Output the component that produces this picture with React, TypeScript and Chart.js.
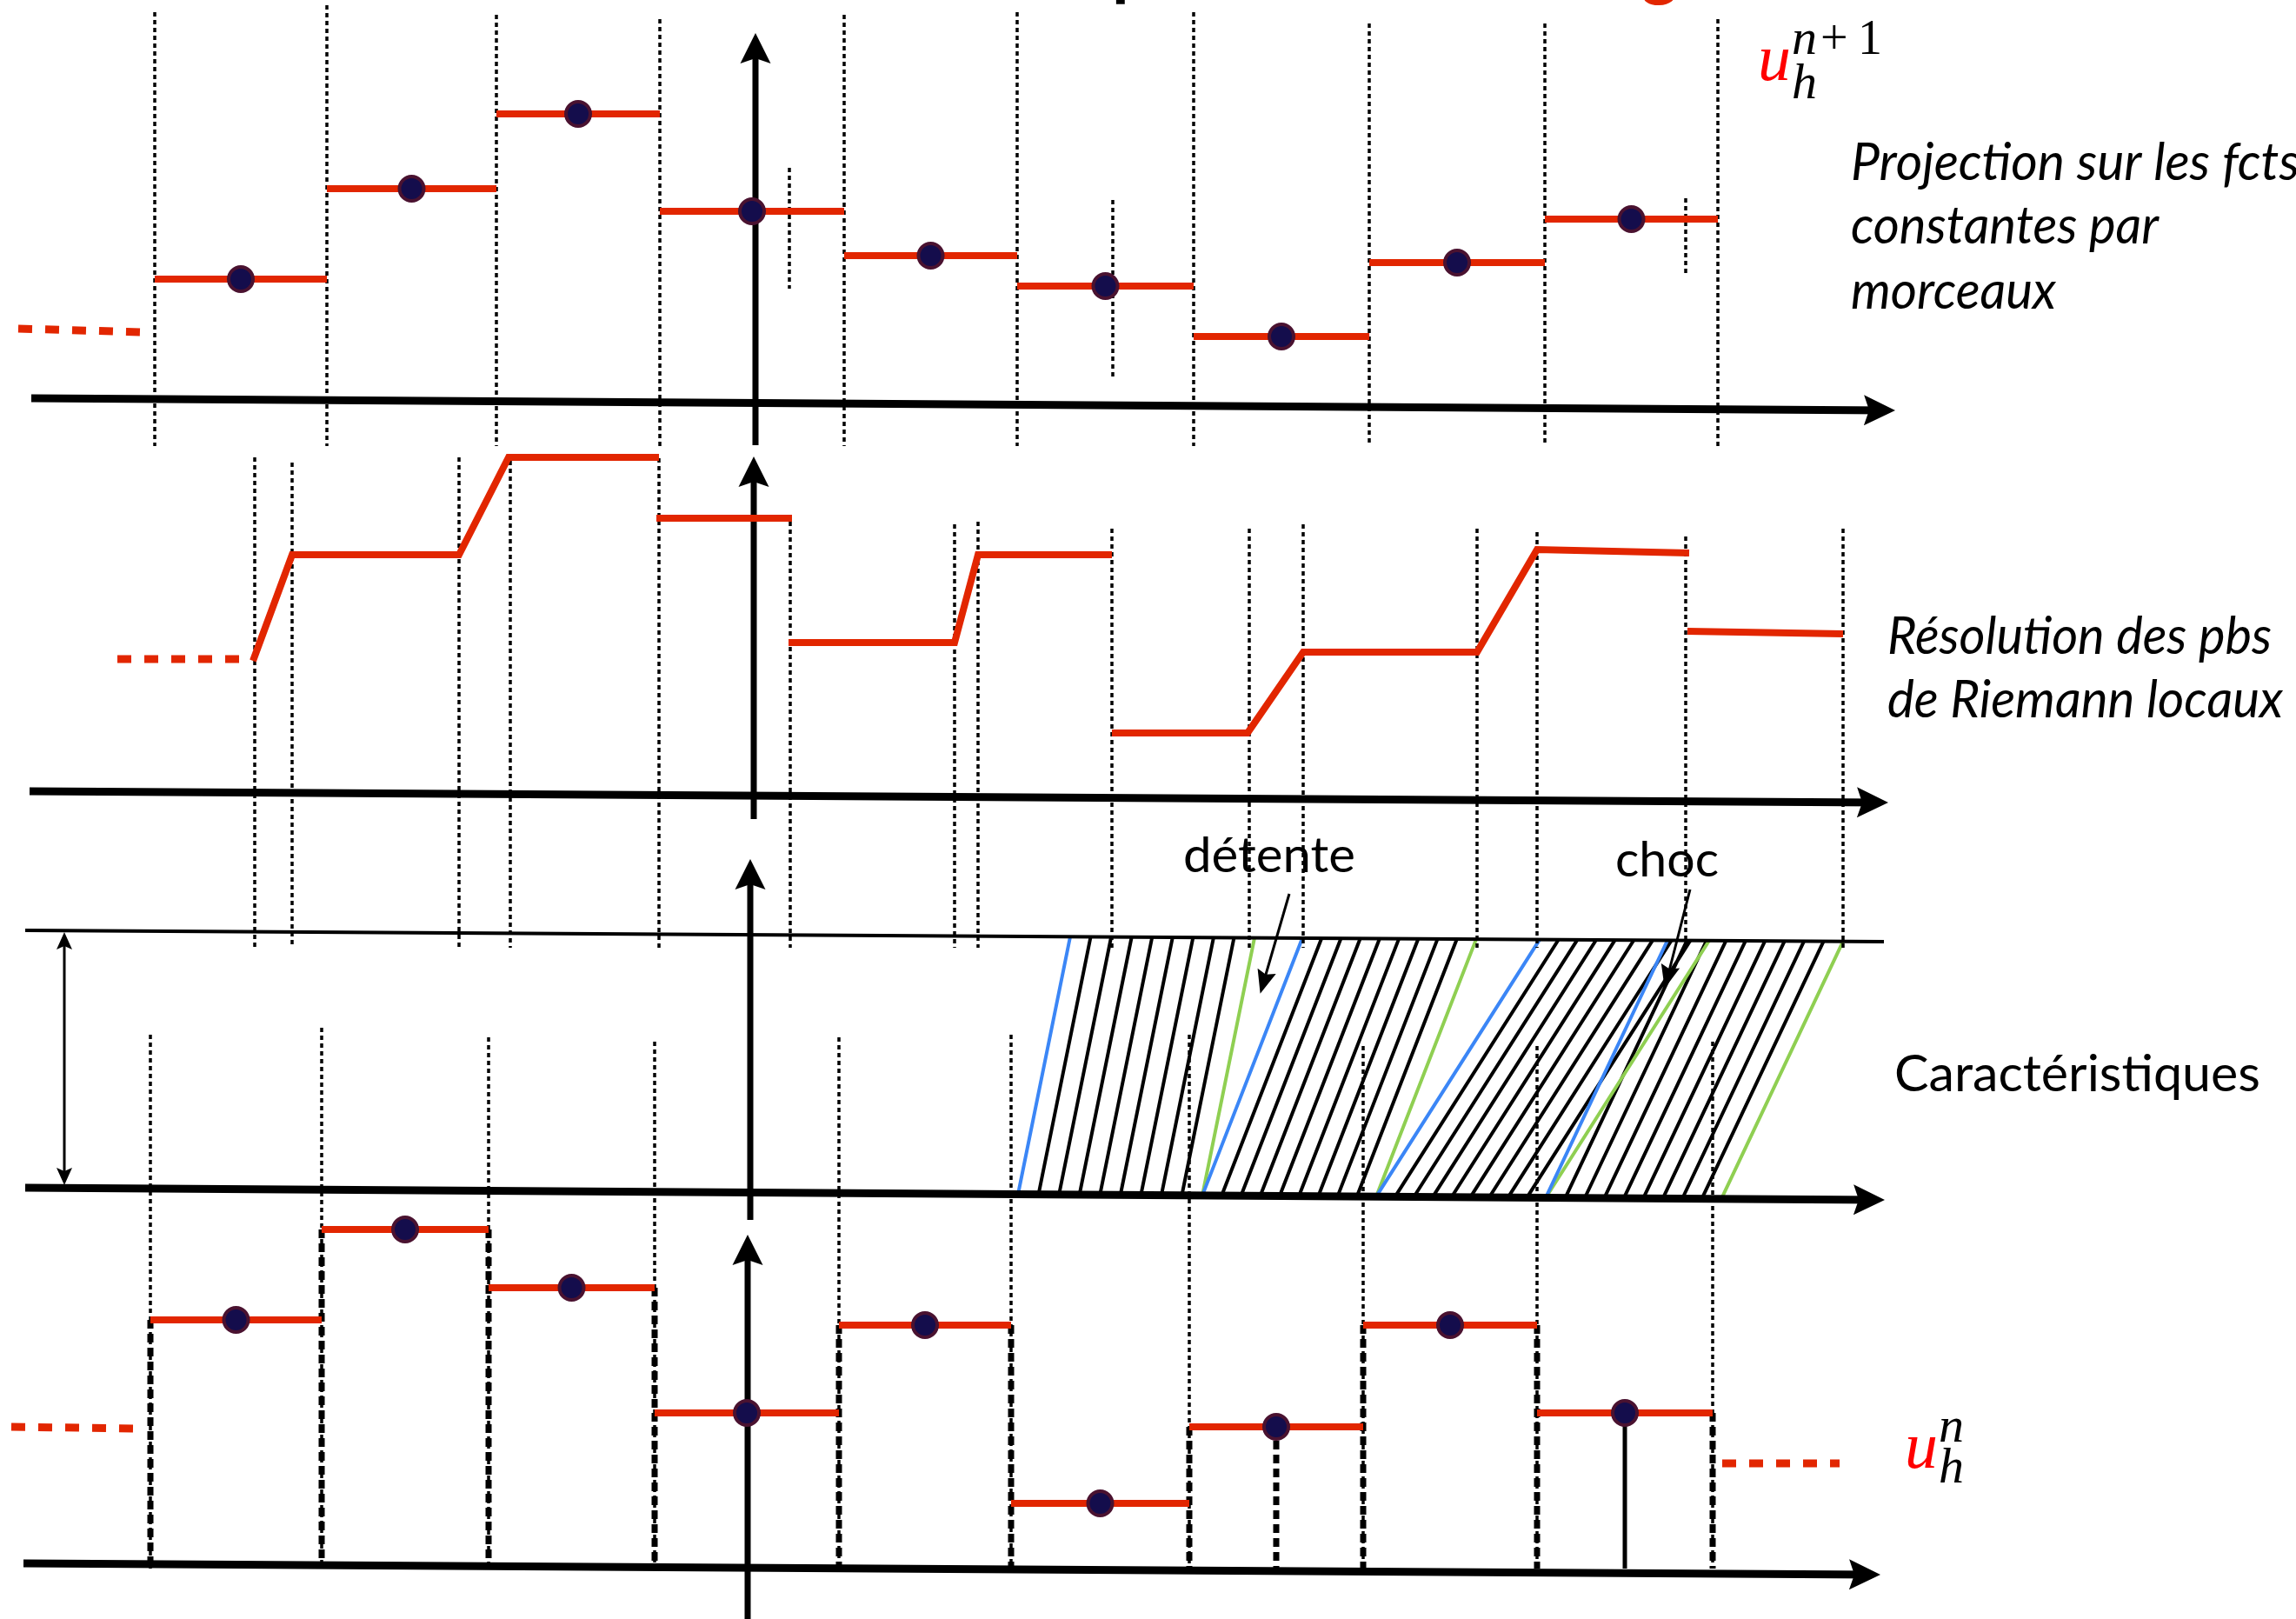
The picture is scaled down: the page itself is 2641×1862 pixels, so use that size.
import React, { useEffect, useRef } from "react";
import { Chart, registerables } from "chart.js";

Chart.register(...registerables);

// ---------------- DATA ----------------
// x: position in cell widths measured from the vertical axis
// u: height of the state above the horizontal axis of its own panel

// Panel 1 : u_h^{n+1}, projection on piecewise constants
const cellEdgesNp1 = [-3.44, -2.45, -1.475, -0.535, 0.525, 1.52, 2.535, 3.545, 4.555, 5.55];
const cellValuesNp1 = [1.44, 2.48, 3.34, 2.22, 1.71, 1.36, 0.78, 1.63, 2.13];
const ghostNp1X = [-4.225, -3.51];
const ghostNp1U = [0.87, 0.83];
const markNp1X = [0.21, 2.07, 5.365];
const markNp1Top = [2.72, 2.35, 2.37];
const markNp1Bottom = [1.33, 0.31, 1.47];

// Panel 2 : solution of the local Riemann problems (null = break)
const riemannX = [-2.875, -2.65, -1.69, -1.405, -0.54, null, -0.555, 0.225, null, 0.205, 1.16, 1.295, 2.065, null, 2.065, 2.845, 3.165, 4.165, 4.51, 5.385, null, 5.375, 6.27];
const riemannU = [1.56, 2.78, 2.78, 3.9, 3.9, null, 3.2, 3.2, null, 1.77, 1.77, 2.78, 2.78, null, 0.73, 0.73, 1.66, 1.66, 2.84, 2.8, null, 1.9, 1.87];
const ghostRiemannX = [-3.655, -2.92];
const ghostRiemannU = [1.58, 1.58];
const waveX = [-2.865, -2.65, -1.69, -1.395, -0.54, 0.215, 1.16, 1.295, 2.065, 2.855, 3.165, 4.165, 4.51, 5.365, 6.27];
const waveTop = [3.9, 3.84, 3.9, 3.86, 3.89, 3.16, 3.13, 3.16, 3.08, 3.08, 3.13, 3.08, 3.04, 2.99, 3.08];

// Panel 3 : characteristics (cells at the foot, and shift of the lines over the time step)
const charEdges = [1.525, 2.585, 3.585, 4.56, 5.57];
const charShift = [0.3, 0.575, 0.94, 0.7];
const charLinesPerCell = 9;

// Panel 4 : u_h^n
const cellEdgesN = [-3.465, -2.48, -1.52, -0.565, 0.495, 1.485, 2.51, 3.51, 4.51, 5.52];
const cellValuesN = [2.86, 3.9, 3.23, 1.79, 2.8, 0.75, 1.63, 2.8, 1.79];
const ghostNLeftX = [-4.265, -3.55];
const ghostNLeftU = [1.63, 1.61];
const ghostNRightX = [5.575, 6.25];
const ghostNRightU = [1.21, 1.21];
const stemDashedCell = 6;
const stemSolidCell = 8;

// Texts
const labelProjection = ["Projection sur les fcts", "constantes par", "morceaux"];
const labelRiemann = ["Résolution des pbs", "de Riemann locaux"];
const labelCharacteristics = "Caractéristiques";
const labelRarefaction = "détente";
const labelShock = "choc";

// ---------------- LAYOUT ----------------
const W = 2641;
const H = 1862;
const X_MIN = -4.33;
const X_MAX = 8.875;
const Y_MIN = 0;
const Y_MAX = 18.62;
const B1 = 13.97; // panel bases
const B2 = 9.46;
const B3 = 4.89;
const B4 = 0.58;
const BASES = [B1, B2, B3, B4];
const axisLeftX = [-4.15, -4.16, -4.185, -4.195];
const axisRightX = [6.52, 6.48, 6.46, 6.435];
const axisLeftH = [0.07, 0.06, 0.07, 0.06];
const axisRightH = [-0.07, -0.07, -0.07, -0.07];
const vAxisX = [0.015, 0.005, -0.015, -0.03];
const vAxisBottom = [-0.47, -0.26, -0.3, -0.58];
const vAxisTop = [4.19, 3.83, 3.77, 3.76];
const topLine = { x0: -4.185, h0: 3.03, x1: 6.505, h1: 2.9 };
const np1Top = [4.51, 4.59, 4.48, 4.43, 4.48, 4.51, 4.51, 4.38, 4.38, 4.43];
const np1Bottom = -0.48;
const waveBottom = -1.74;
const nTop = [6.14, 6.22, 6.11, 6.06, 6.11, 6.14, 6.14, 6.01, 6.01, 6.06];

const RED = "#e22600";
const NAVY = "#140d4c";
const MAROON = "#4a1230";
const BLUE = "#3b86f6";
const GREEN = "#8fcf52";
const BLACK = "#000000";

type Pt = { x: number; y: number | null };
type Seg = number[][];

const pts = (segs: Seg[]): Pt[] => {
  const out: Pt[] = [];
  segs.forEach((s, i) => {
    if (i > 0) out.push({ x: s[0][0], y: null });
    s.forEach((p) => out.push({ x: p[0], y: p[1] }));
  });
  return out;
};

const lineDs = (segs: Seg[], color: string, width: number, dash: number[], order: number) => ({
  data: pts(segs),
  borderColor: color,
  backgroundColor: color,
  borderWidth: width,
  borderDash: dash,
  borderCapStyle: "butt",
  borderJoinStyle: "miter",
  pointRadius: 0,
  pointHoverRadius: 0,
  pointHitRadius: 0,
  fill: false,
  tension: 0,
  spanGaps: false,
  order,
});

const axisH = (x: number) => axisLeftH[2] + (axisRightH[2] - axisLeftH[2]) * (x - axisLeftX[2]) / (topLine.x1 - axisLeftX[2]);
const topH = (x: number) => topLine.h0 + (topLine.h1 - topLine.h0) * (x - topLine.x0) / (topLine.x1 - topLine.x0);

function buildDatasets() {
  const ds: any[] = [];
  const centersNp1 = cellValuesNp1.map((v, i) => ({ x: (cellEdgesNp1[i] + cellEdgesNp1[i + 1]) / 2, y: B1 + v }));
  const centersN = cellValuesN.map((v, i) => ({ x: (cellEdgesN[i] + cellEdgesN[i + 1]) / 2, y: B4 + v }));

  // dots
  ds.push({
    data: [...centersNp1, ...centersN],
    showLine: false,
    pointRadius: 14,
    pointHoverRadius: 14,
    pointBorderWidth: 4,
    pointBackgroundColor: NAVY,
    pointBorderColor: MAROON,
    order: 0,
  });

  // red steps
  ds.push(lineDs(cellValuesNp1.map((v, i) => [[cellEdgesNp1[i], B1 + v], [cellEdgesNp1[i + 1], B1 + v]]), RED, 8, [], 1));
  ds.push(lineDs(cellValuesN.map((v, i) => [[cellEdgesN[i], B4 + v], [cellEdgesN[i + 1], B4 + v]]), RED, 8, [], 1));
  // riemann polyline
  const rSegs: Seg[] = [];
  let cur: number[][] = [];
  riemannX.forEach((x, i) => {
    if (x === null || riemannU[i] === null) {
      if (cur.length) rSegs.push(cur);
      cur = [];
    } else cur.push([x, B2 + (riemannU[i] as number)]);
  });
  if (cur.length) rSegs.push(cur);
  ds.push(lineDs(rSegs, RED, 8, [], 1));
  // red dashed ghosts
  ds.push(
    lineDs(
      [
        [[ghostNp1X[0], B1 + ghostNp1U[0]], [ghostNp1X[1], B1 + ghostNp1U[1]]],
        [[ghostRiemannX[0], B2 + ghostRiemannU[0]], [ghostRiemannX[1], B2 + ghostRiemannU[1]]],
        [[ghostNLeftX[0], B4 + ghostNLeftU[0]], [ghostNLeftX[1], B4 + ghostNLeftU[1]]],
        [[ghostNRightX[0], B4 + ghostNRightU[0]], [ghostNRightX[1], B4 + ghostNRightU[1]]],
      ],
      RED,
      9,
      [16, 15],
      1
    )
  );

  // horizontal axes
  ds.push(lineDs(BASES.map((b, i) => [[axisLeftX[i], b + axisLeftH[i]], [axisRightX[i], b + axisRightH[i]]]), BLACK, 9, [], 2));
  // top line of characteristics panel
  ds.push(lineDs([[[topLine.x0, B3 + topLine.h0], [topLine.x1, B3 + topLine.h1]]], BLACK, 4, [], 2));
  // vertical axes
  ds.push(lineDs(BASES.map((b, i) => [[vAxisX[i], b + vAxisBottom[i]], [vAxisX[i], b + vAxisTop[i]]]), BLACK, 7, [], 2));
  // solid stem
  const cS = (cellEdgesN[stemSolidCell] + cellEdgesN[stemSolidCell + 1]) / 2;
  ds.push(lineDs([[[cS, B4 + cellValuesN[stemSolidCell]], [cS, B4]]], BLACK, 5, [], 2));
  // thin arrows (double arrow + annotations)
  ds.push(
    lineDs(
      [
        [[-3.96, B3 + 0.15], [-3.96, B3 + 2.96]],
        [[3.085, B3 + 3.45], [2.925, B3 + 2.35]],
        [[5.39, B3 + 3.5], [5.25, B3 + 2.41]],
      ],
      BLACK,
      3,
      [],
      2
    )
  );

  // thick dashed edges of u_h^n
  const thick: Seg[] = cellEdgesN.map((x, i) => {
    const left = i === 0 ? ghostNLeftU[1] : cellValuesN[i - 1];
    const right = i === cellValuesN.length ? ghostNRightU[0] : cellValuesN[i];
    return [[x, B4 + Math.max(left, right)], [x, B4]];
  });
  const cD = (cellEdgesN[stemDashedCell] + cellEdgesN[stemDashedCell + 1]) / 2;
  thick.push([[cD, B4 + cellValuesN[stemDashedCell]], [cD, B4]]);
  ds.push(lineDs(thick, BLACK, 7, [10, 6], 3));

  // thin dotted lines
  const dotted: Seg[] = [];
  cellEdgesNp1.forEach((x, i) => dotted.push([[x, B1 + np1Top[i]], [x, B1 + np1Bottom]]));
  markNp1X.forEach((x, i) => dotted.push([[x, B1 + markNp1Top[i]], [x, B1 + markNp1Bottom[i]]]));
  waveX.forEach((x, i) => dotted.push([[x, B2 + waveTop[i]], [x, B2 + waveBottom]]));
  cellEdgesN.forEach((x, i) => dotted.push([[x, B4 + nTop[i]], [x, B4]]));
  ds.push(lineDs(dotted, BLACK, 3.5, [5, 4], 4));

  // characteristics
  const blk: Seg[] = [];
  const blu: Seg[] = [];
  const grn: Seg[] = [];
  charShift.forEach((s, i) => {
    const a = charEdges[i];
    const b = charEdges[i + 1];
    for (let k = 0; k <= charLinesPerCell; k++) {
      const foot = a + ((b - a) * k) / charLinesPerCell;
      const seg = [[foot, B3 + axisH(foot)], [foot + s, B3 + topH(foot + s)]];
      if (k === 0) blu.push(seg);
      else if (k === charLinesPerCell) grn.push(seg);
      else blk.push(seg);
    }
  });
  ds.push(lineDs(blu, BLUE, 4, [], 4.5));
  ds.push(lineDs(grn, GREEN, 4, [], 4.5));
  ds.push(lineDs(blk, BLACK, 4, [], 5));
  return ds;
}

const diagramPlugin = {
  id: "diagram",
  afterDatasetsDraw(chart: any) {
    const ctx: CanvasRenderingContext2D = chart.ctx;
    const xs = chart.scales.x;
    const ys = chart.scales.y;
    const px = (v: number) => xs.getPixelForValue(v);
    const py = (v: number) => ys.getPixelForValue(v);

    const head = (x0: number, y0: number, x1: number, y1: number, len: number, half: number, notch: number, ext: number) => {
      const ax = px(x0), ay = py(y0), bx = px(x1), by = py(y1);
      const dx = bx - ax, dy = by - ay;
      const L = Math.hypot(dx, dy);
      const ux = dx / L, uy = dy / L;
      const tx = bx + ux * ext, ty = by + uy * ext;
      const cx = tx - ux * len, cy = ty - uy * len;
      const nx = -uy, ny = ux;
      ctx.beginPath();
      ctx.moveTo(tx, ty);
      ctx.lineTo(cx + nx * half, cy + ny * half);
      ctx.lineTo(tx - ux * (len - notch), ty - uy * (len - notch));
      ctx.lineTo(cx - nx * half, cy - ny * half);
      ctx.closePath();
      ctx.fillStyle = BLACK;
      ctx.fill();
    };

    ctx.save();
    BASES.forEach((b, i) => {
      head(axisLeftX[i], b + axisLeftH[i], axisRightX[i], b + axisRightH[i], 36, 17.5, 6, 10);
      head(vAxisX[i], b + vAxisBottom[i], vAxisX[i], b + vAxisTop[i], 35, 17.5, 6, 8);
    });
    head(-3.96, B3 + 0.15, -3.96, B3 + 2.96, 20, 9, 4, 5);
    head(-3.96, B3 + 2.96, -3.96, B3 + 0.15, 20, 9, 4, 5);
    head(3.085, B3 + 3.45, 2.925, B3 + 2.35, 27, 11, 4, 5);
    head(5.39, B3 + 3.5, 5.25, B3 + 2.41, 27, 11, 4, 5);

    const text = (str: string, x: number, y: number, font: string, color: string, width?: number) => {
      ctx.save();
      ctx.font = font;
      ctx.fillStyle = color;
      ctx.textAlign = "left";
      ctx.textBaseline = "alphabetic";
      ctx.translate(px(x), py(y));
      if (width) {
        const m = ctx.measureText(str).width;
        if (m > 0) ctx.scale(width / m, 1);
      }
      ctx.fillText(str, 0, 0);
      ctx.restore();
    };

    const sansI = "italic 60px Lato, 'Open Sans', sans-serif";
    const sans = "58px Lato, 'Open Sans', sans-serif";
    const projW = [516, 354, 236];
    const projY = [2.58, 1.85, 1.1];
    labelProjection.forEach((s, i) => text(s, 6.315, B1 + projY[i], sansI, BLACK, projW[i]));
    const riemW = [442, 455];
    const riemY = [1.64, 0.91];
    labelRiemann.forEach((s, i) => text(s, 6.525, B2 + riemY[i], sansI, BLACK, riemW[i]));
    text(labelCharacteristics, 6.565, B3 + 1.18, sans, BLACK, 421);
    text(labelRarefaction, 2.475, B3 + 3.7, "56px Lato, sans-serif", BLACK, 198);
    text(labelShock, 4.96, B3 + 3.65, "56px Lato, sans-serif", BLACK, 119);

    // math labels
    const mathI = "italic 76px 'Liberation Serif', 'DejaVu Serif', serif";
    const scrI = "italic 58px 'Liberation Serif', 'DejaVu Serif', serif";
    const scr = "56px 'Liberation Serif', 'DejaVu Serif', serif";
    text("u", 5.78, B1 + 3.73, mathI, "#ff0000");
    text("n", 5.975, B1 + 4.03, scrI, BLACK);
    text("+", 6.14, B1 + 4.03, scr, BLACK);
    text("1", 6.355, B1 + 4.03, scr, BLACK);
    text("h", 5.975, B1 + 3.52, scrI, BLACK);
    text("u", 6.625, B4 + 1.16, mathI, "#ff0000");
    text("n", 6.82, B4 + 1.46, scrI, BLACK);
    text("h", 6.82, B4 + 0.99, scrI, BLACK);

    // title glyphs cut by the top edge
    text("p", 2.065, B1 + 4.74, "bold 80px Lato, sans-serif", BLACK);
    text("g", 5.11, B1 + 4.74, "bold 80px Lato, sans-serif", RED);
    ctx.restore();
  },
};

export default function App() {
  const ref = useRef<HTMLCanvasElement | null>(null);
  useEffect(() => {
    document.body.style.margin = "0";
    document.body.style.overflow = "hidden";
    const canvas = ref.current;
    if (!canvas) return;
    const chart = new Chart(canvas, {
      type: "line",
      data: { datasets: buildDatasets() },
      options: {
        animation: false,
        responsive: false,
        devicePixelRatio: 1,
        events: [],
        layout: { padding: 0, autoPadding: false },
        plugins: { legend: { display: false }, tooltip: { enabled: false } },
        scales: {
          x: { type: "linear", min: X_MIN, max: X_MAX, display: false },
          y: { type: "linear", min: Y_MIN, max: Y_MAX, display: false },
        },
      } as any,
      plugins: [diagramPlugin as any],
    });
    return () => chart.destroy();
  }, []);
  return (
    <div style={{ width: W, height: H, background: "#fff" }}>
      <canvas ref={ref} width={W} height={H} style={{ display: "block", width: W, height: H }} />
    </div>
  );
}
